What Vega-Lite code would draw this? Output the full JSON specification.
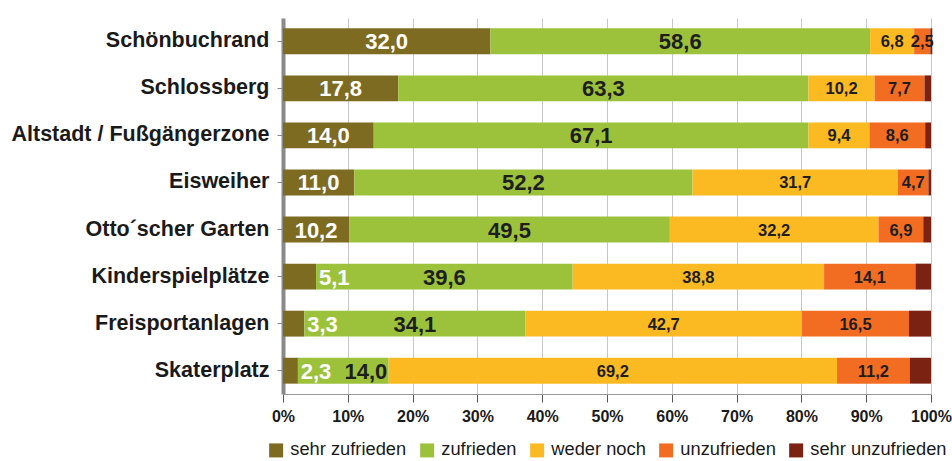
{
  "$schema": "https://vega.github.io/schema/vega-lite/v6.json",
  "autosize": "none",
  "width": 648,
  "height": 376,
  "padding": {"left": 283, "top": 18, "right": 21, "bottom": 67},
  "background": "white",
  "config": {
    "font": "Liberation Sans",
    "view": {"stroke": null}
  },
  "data": {
    "values": [
      {"ort": "Schönbuchrand", "cat": "sehr zufrieden", "value": 32.0},
      {"ort": "Schönbuchrand", "cat": "zufrieden", "value": 58.6},
      {"ort": "Schönbuchrand", "cat": "weder noch", "value": 6.8},
      {"ort": "Schönbuchrand", "cat": "unzufrieden", "value": 2.5},
      {"ort": "Schönbuchrand", "cat": "sehr unzufrieden", "value": 0.3},
      {"ort": "Schlossberg", "cat": "sehr zufrieden", "value": 17.8},
      {"ort": "Schlossberg", "cat": "zufrieden", "value": 63.3},
      {"ort": "Schlossberg", "cat": "weder noch", "value": 10.2},
      {"ort": "Schlossberg", "cat": "unzufrieden", "value": 7.7},
      {"ort": "Schlossberg", "cat": "sehr unzufrieden", "value": 1.0},
      {"ort": "Altstadt / Fußgängerzone", "cat": "sehr zufrieden", "value": 14.0},
      {"ort": "Altstadt / Fußgängerzone", "cat": "zufrieden", "value": 67.1},
      {"ort": "Altstadt / Fußgängerzone", "cat": "weder noch", "value": 9.4},
      {"ort": "Altstadt / Fußgängerzone", "cat": "unzufrieden", "value": 8.6},
      {"ort": "Altstadt / Fußgängerzone", "cat": "sehr unzufrieden", "value": 0.9},
      {"ort": "Eisweiher", "cat": "sehr zufrieden", "value": 11.0},
      {"ort": "Eisweiher", "cat": "zufrieden", "value": 52.2},
      {"ort": "Eisweiher", "cat": "weder noch", "value": 31.7},
      {"ort": "Eisweiher", "cat": "unzufrieden", "value": 4.7},
      {"ort": "Eisweiher", "cat": "sehr unzufrieden", "value": 0.4},
      {"ort": "Otto´scher Garten", "cat": "sehr zufrieden", "value": 10.2},
      {"ort": "Otto´scher Garten", "cat": "zufrieden", "value": 49.5},
      {"ort": "Otto´scher Garten", "cat": "weder noch", "value": 32.2},
      {"ort": "Otto´scher Garten", "cat": "unzufrieden", "value": 6.9},
      {"ort": "Otto´scher Garten", "cat": "sehr unzufrieden", "value": 1.2},
      {"ort": "Kinderspielplätze", "cat": "sehr zufrieden", "value": 5.1},
      {"ort": "Kinderspielplätze", "cat": "zufrieden", "value": 39.6},
      {"ort": "Kinderspielplätze", "cat": "weder noch", "value": 38.8},
      {"ort": "Kinderspielplätze", "cat": "unzufrieden", "value": 14.1},
      {"ort": "Kinderspielplätze", "cat": "sehr unzufrieden", "value": 2.4},
      {"ort": "Freisportanlagen", "cat": "sehr zufrieden", "value": 3.3},
      {"ort": "Freisportanlagen", "cat": "zufrieden", "value": 34.1},
      {"ort": "Freisportanlagen", "cat": "weder noch", "value": 42.7},
      {"ort": "Freisportanlagen", "cat": "unzufrieden", "value": 16.5},
      {"ort": "Freisportanlagen", "cat": "sehr unzufrieden", "value": 3.4},
      {"ort": "Skaterplatz", "cat": "sehr zufrieden", "value": 2.3},
      {"ort": "Skaterplatz", "cat": "zufrieden", "value": 14.0},
      {"ort": "Skaterplatz", "cat": "weder noch", "value": 69.2},
      {"ort": "Skaterplatz", "cat": "unzufrieden", "value": 11.2},
      {"ort": "Skaterplatz", "cat": "sehr unzufrieden", "value": 3.3}
    ]
  },
  "transform": [
    {"calculate": "indexof(['sehr zufrieden','zufrieden','weder noch','unzufrieden','sehr unzufrieden'], datum.cat)", "as": "k"},
    {"stack": "value", "groupby": ["ort"], "sort": [{"field": "k", "order": "ascending"}], "as": ["x0", "x1"]},
    {"calculate": "datum.k == 0 && datum.value < 6 ? datum.x1 + 2.8 : (datum.k == 1 && datum.value < 20 ? (datum.x0 + datum.x1) / 2 + 3.5 : (datum.x0 + datum.x1) / 2)", "as": "xm"},
    {"calculate": "replace(format(datum.value, '.1f'), '.', ',')", "as": "lab"}
  ],
  "encoding": {
    "y": {
      "field": "ort",
      "type": "nominal",
      "sort": ["Schönbuchrand", "Schlossberg", "Altstadt / Fußgängerzone", "Eisweiher", "Otto´scher Garten", "Kinderspielplätze", "Freisportanlagen", "Skaterplatz"],
      "scale": {"paddingInner": 0.45, "paddingOuter": 0.22},
      "axis": {
        "title": null,
        "labelFont": "Liberation Sans",
        "labelFontWeight": "bold",
        "labelFontSize": 21.5,
        "labelLimit": 320,
        "labelColor": "#1a1a1a",
        "labelPadding": 8,
        "domainColor": "#8a8a8a",
        "domainWidth": 4,
        "tickColor": "#8a8a8a",
        "tickSize": 6
      }
    }
  },
  "layer": [
    {
      "mark": {"type": "bar"},
      "encoding": {
        "x": {
          "field": "x0",
          "type": "quantitative",
          "scale": {"domain": [0, 100], "nice": false},
          "axis": {
            "title": null,
            "values": [0, 10, 20, 30, 40, 50, 60, 70, 80, 90, 100],
            "labelExpr": "datum.value + '%'",
            "labelFlush": false,
            "labelFont": "Liberation Sans",
            "labelFontWeight": "bold",
            "labelFontSize": 16,
            "labelColor": "#1a1a1a",
            "labelPadding": 6,
            "grid": true,
            "gridColor": "#c8c8c8",
            "domainColor": "#9a9a9a",
            "tickColor": "#555555",
            "tickSize": 8
          }
        },
        "x2": {"field": "x1"},
        "color": {
          "field": "cat",
          "type": "nominal",
          "scale": {
            "domain": ["sehr zufrieden", "zufrieden", "weder noch", "unzufrieden", "sehr unzufrieden"],
            "range": ["#7d6b22", "#9cc23c", "#fbb922", "#f26c22", "#7b2213"]
          },
          "legend": {
            "title": null,
            "orient": "none",
            "legendX": -16,
            "legendY": 423,
            "direction": "horizontal",
            "symbolType": "square",
            "symbolSize": 196,
            "symbolOpacity": 1,
            "labelFont": "Liberation Sans",
            "labelFontSize": 18.3,
            "labelLimit": 300,
            "labelColor": "#1a1a1a",
            "columnPadding": 11,
            "labelOffset": 5
          }
        },
        "order": {"field": "k"}
      }
    },
    {
      "transform": [{"filter": "datum.k <= 1"}],
      "mark": {"type": "text", "fontWeight": "bold", "baseline": "middle", "align": "center", "fontSize": 22, "dy": 1},
      "encoding": {
        "x": {"field": "xm", "type": "quantitative"},
        "text": {"field": "lab"},
        "color": {
          "condition": {"test": "datum.k == 0", "value": "white"},
          "value": "#1e1e1e"
        }
      }
    },
    {
      "transform": [{"filter": "datum.k == 2 || datum.k == 3"}],
      "mark": {"type": "text", "fontWeight": "bold", "baseline": "middle", "align": "center", "fontSize": 16.5, "dy": 1, "color": "#1e1e1e"},
      "encoding": {
        "x": {"field": "xm", "type": "quantitative"},
        "text": {"field": "lab"}
      }
    }
  ]
}
